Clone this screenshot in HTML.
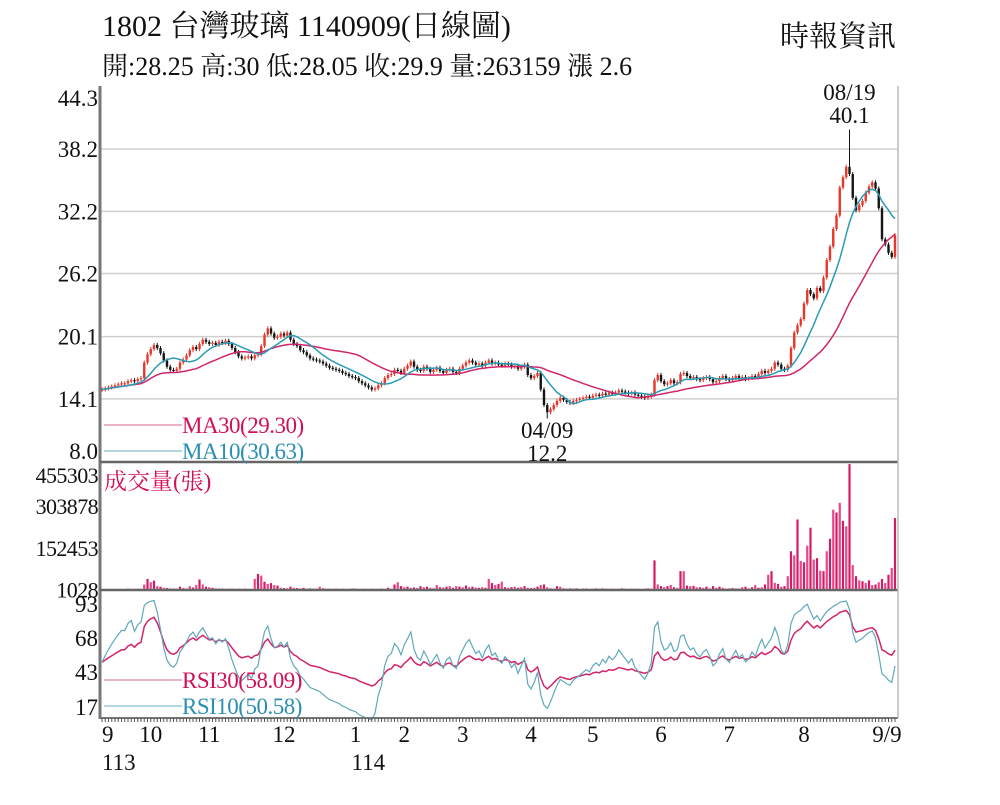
<!DOCTYPE html>
<html><head><meta charset="utf-8">
<style>
body{margin:0;background:#fff;}
svg text{font-family:"Liberation Serif","Noto Serif CJK SC",serif;}
</style></head>
<body>
<svg id="chart" width="1000" height="800" viewBox="0 0 1000 800" xmlns="http://www.w3.org/2000/svg">
<rect width="1000" height="800" fill="#fff"/>
<text x="102" y="36" font-size="30" fill="#111">1802  台灣玻璃 1140909(日線圖)</text>
<text x="780" y="46" font-size="29" fill="#111">時報資訊</text>
<text x="102" y="75" font-size="26" fill="#111">開:28.25 高:30 低:28.05 收:29.9 量:263159 漲 2.6</text>
<g id="grid"></g>
<g id="marks"></g>
<g id="axes"></g>
</svg>
<script>
const closes=[15.0,15.1,15.2,15.3,15.4,15.5,15.6,15.6,15.8,15.9,15.8,16.0,16.1,17.6,18.4,18.9,19.3,19.0,18.5,17.8,
17.2,16.9,16.8,17.0,17.6,17.9,18.3,18.8,19.1,18.9,19.4,19.8,19.6,19.4,19.5,19.3,19.6,19.5,19.7,19.4,
19.0,18.6,18.2,18.0,18.1,18.2,18.0,18.3,18.4,19.2,20.3,20.9,20.4,20.0,20.1,20.4,20.2,20.5,19.8,19.4,
19.2,18.8,18.6,18.3,18.0,17.9,17.8,17.7,17.5,17.3,17.1,17.0,16.9,16.8,16.6,16.5,16.3,16.2,16.1,15.8,
15.6,15.4,15.2,15.0,15.1,15.4,15.6,16.1,16.4,16.5,16.9,16.8,16.6,17.0,17.3,17.7,17.2,16.9,16.8,17.2,
17.0,16.7,16.9,17.1,16.8,16.6,16.9,17.0,16.7,16.6,17.0,17.3,17.6,17.8,17.6,17.4,17.5,17.3,17.6,17.8,
17.5,17.6,17.4,17.3,17.5,17.4,17.2,17.3,17.0,17.2,17.4,16.4,16.1,16.3,16.6,15.0,13.5,12.8,13.1,13.5,
13.9,14.2,14.0,13.8,13.7,13.9,14.0,14.1,14.2,14.3,14.2,14.4,14.5,14.4,14.6,14.5,14.7,14.6,14.7,14.9,
14.8,14.7,14.6,14.7,14.5,14.4,14.3,14.2,14.3,14.5,15.9,16.4,15.8,15.5,15.6,15.9,15.6,15.7,16.5,16.6,
16.3,16.1,16.2,16.0,15.9,16.1,16.2,16.0,15.7,15.8,16.1,16.3,16.0,15.9,16.1,16.3,16.1,16.2,16.0,16.1,
16.3,16.2,16.5,16.8,16.6,16.8,17.0,17.6,17.4,17.0,16.9,17.3,19.0,20.5,21.2,21.8,23.3,24.6,24.2,23.8,
24.8,24.5,25.8,27.5,28.8,30.5,31.8,34.5,35.5,36.5,35.8,33.5,32.3,32.8,33.2,34.0,34.6,35.0,34.4,32.5,
29.5,29.0,28.2,27.8,29.9];
const volumes=[3,3,4,3,3,4,3,3,5,4, 4,5,4,20,40,28,34,14,12,8, 7,6,5,5,12,7,5,14,9,18,
38,20,12,10,8,6,5,6,4,5, 5,4,5,4,5,3,4,40,58,52, 30,22,25,18,16,8,7,6,12,8,
7,6,8,5,6,5,5,12,6,5, 5,4,5,4,5,4,4,6,5,4, 4,5,4,5,3,4,5,4,8,5,
20,28,14,10,12,8,9,7,14,10, 12,8,6,18,10,9,12,14,8,14, 12,10,16,10,12,9,8,10,8,40,
25,18,22,30,10,8,10,12,8,10, 14,8,7,8,12,18,20,10,6,5, 14,12,6,5,6,5,6,4,5,6,
4,5,6,5,6,5,4,5,4,5, 6,5,4,5,4,5,4,5,6,5, 107,20,14,10,14,18,10,8,68,68,
16,14,15,10,10,8,12,6,14,8, 12,8,5,6,7,6,5,10,12,6, 10,18,8,10,20,55,68,26,22,12,
14,50,140,125,255,105,100,160,225,110, 115,70,68,140,185,290,280,315,250,230,
455,90,50,35,32,25,35,18,20,28, 40,25,55,80,260];
const priceTicks=[44.3,38.2,32.2,26.2,20.1,14.1,8.0];
const volTicks=[455303,303878,152453,1028];
const rsiTicks=[93,68,43,17];
const monthIdx=[0,15,33,56,78,93,111,132,151,172,193,216,244];
const monthLabels=["9","10","11","12","1","2","3","4","5","6","7","8","9/9"];
const hiOverride={230:40.1};
const loOverride={137:12.2};

const NS="http://www.w3.org/2000/svg";
const X0=102,DX=3.25,L=100,R=898;
const xs=i=>X0+i*DX;
const yP=p=>462-(p-8)*(376/36.3);
const yV=v=>590-v*1000/455303*126;
const yR=v=>604+(93-v)*1.355;
function el(tag,attrs,parent,txt){const e=document.createElementNS(NS,tag);for(const k in attrs)e.setAttribute(k,attrs[k]);if(txt!==undefined)e.textContent=txt;parent.appendChild(e);return e;}
const grid=document.getElementById('grid'),marks=document.getElementById('marks'),axes=document.getElementById('axes');

priceTicks.forEach((t,k)=>{const y=yP(t);
 if(k>0&&k<priceTicks.length-1){const g=el('line',{x1:L,x2:R,y1:y,y2:y,stroke:'#cfcfcf','stroke-width':1.5},grid);}
 const tx=el('text',{x:98,y:k==0?y+20:(k==priceTicks.length-1?y-3:y+8),'font-size':23,'text-anchor':'end',fill:'#111'},axes,t.toFixed(1));
 });
volTicks.forEach((t,k)=>{const y=yV(t/1000);const tx=el('text',{x:98,y:k==0?y+19:y+8,'font-size':22,'text-anchor':'end',fill:'#111','letter-spacing':'-0.6'},axes,String(t));
 });
rsiTicks.forEach(t=>{const tx=el('text',{x:98,y:yR(t)+8,'font-size':23,'text-anchor':'end',fill:'#111'},axes,String(t));
 });

closes.forEach((c,i)=>{const o=i?closes[i-1]:c;const up=c>=o;const col=up?'#e8362a':'#151515';
 const hi=hiOverride[i]!==undefined?hiOverride[i]:Math.max(o,c)+0.2;const lo=loOverride[i]!==undefined?loOverride[i]:Math.min(o,c)-0.2;
 const x=xs(i);
 const w=el('line',{x1:x,x2:x,y1:yP(hi),y2:yP(lo),stroke:col,'stroke-width':1},marks);
 const top=yP(Math.max(o,c)),bot=yP(Math.min(o,c));
 const b=el('rect',{x:x-1.2,y:top,width:2.4,height:Math.max(1.2,bot-top),fill:col},marks);});

function ma(n){return closes.map((_,i)=>{const s=Math.max(0,i-n+1);let t=0;for(let j=s;j<=i;j++)t+=closes[j];return t/(i-s+1);});}
function poly(vals,fy,col,name,w){const p=vals.map((v,i)=>xs(i).toFixed(1)+','+fy(v).toFixed(1)).join(' ');const e=el('polyline',{points:p,fill:'none',stroke:col,'stroke-width':w||1.5},marks);}
poly(ma(30),yP,'#d2246a','ma30-line');
poly(ma(10),yP,'#2a9bb5','ma10-line');

volumes.forEach((v,i)=>{const y=yV(v);const b=el('rect',{x:xs(i)-1.1,y:y,width:2.2,height:590-y,fill:i%2?'#e8488a':'#d41c66'},marks);
 });

function rsi(n){let ag=0,al=0;const out=[];closes.forEach((c,i)=>{const d=i?c-closes[i-1]:0;const g=Math.max(d,0),l=Math.max(-d,0);
 if(i==0){ag=0.05;al=0.05;}else{ag=(ag*(n-1)+g)/n;al=(al*(n-1)+l)/n;}out.push(100*ag/(ag+al));});return out;}
poly(rsi(30),yR,'#d2246a','rsi30-line');
poly(rsi(10),yR,'#5fa9bb','rsi10-line',1.2);

[[L,86,L,719,'#777',3,'left-axis'],[L,462,R,462,'#666',2.5,'price-volume-divider'],[L,590,R,590,'#666',2.5,'volume-rsi-divider'],[L,718,R,718,'#777',2,'x-axis'],[R,86,R,718,'#bbb',1.5,'right-border']].forEach(a=>{
 const e=el('line',{x1:a[0],y1:a[1],x2:a[2],y2:a[3],stroke:a[4],'stroke-width':a[5]},axes);});
closes.forEach((_,i)=>{const t=el('line',{x1:xs(i),x2:xs(i),y1:718,y2:722,stroke:'#555','stroke-width':1},axes);});
monthIdx.forEach((m,k)=>{const t=el('text',{x:xs(m)+(k==monthIdx.length-1?-8:0),y:742,'font-size':23,'text-anchor':k==0?'start':'middle',fill:'#111'},axes,monthLabels[k]);
 });
[["113",xs(0),'year-113'],["114",xs(78)-4,'year-114']].forEach(a=>{const t=el('text',{x:a[1],y:770,'font-size':23,fill:'#111'},axes,a[0]);});

function legend(y,col,txt,name,lc){const l=el('line',{x1:104,x2:182,y1:y,y2:y,stroke:lc,'stroke-width':1.5},axes);
 const t=el('text',{x:182,y:y+8,'font-size':23,fill:col,'letter-spacing':'-0.5'},axes,txt);}
legend(425,'#d2105a','MA30(29.30)','ma30-legend','#e39ab5');
legend(451,'#2a8fb0','MA10(30.63)','ma10-legend','#9cc8d6');
legend(680,'#d2105a','RSI30(58.09)','rsi30-legend','#e39ab5');
legend(706,'#2a8fb0','RSI10(50.58)','rsi10-legend','#9cc8d6');
const vt=el('text',{x:104,y:489,'font-size':23,fill:'#d2105a'},axes,'成交量(張)');

[["08/19",xs(230),100,'high-date'],["40.1",xs(230),123,'high-value'],["04/09",xs(137),438,'low-date'],["12.2",xs(137),461,'low-value']].forEach(a=>{
 const t=el('text',{x:a[1],y:a[2],'font-size':23,'text-anchor':'middle',fill:'#111'},axes,a[0]);});
</script>
</body></html>
